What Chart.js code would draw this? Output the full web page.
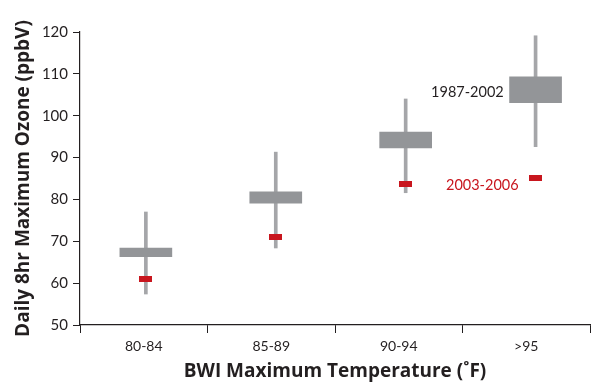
<!DOCTYPE html>
<html>
<head>
<meta charset="utf-8">
<script src="https://cdn.jsdelivr.net/npm/chart.js@4/dist/chart.umd.min.js"></script>
<style>
  html, body { margin: 0; padding: 0; background: #fff; }
</style>
</head>
<body>
<canvas id="ozone" width="595" height="383"></canvas>
<script>
// Temperature bins and ozone ranges (ppbV)
var categories = ["80-84", "85-89", "90-94", ">95"];
var whiskerLow = [57.4, 68.4, 81.6, 92.6];
var whiskerHigh = [77, 91.3, 104, 119.1];
var boxLow = [66.3, 79.1, 92.3, 103.1];
var boxHigh = [68.4, 81.8, 96.1, 109.3];
var recent = [61, 71, 83.7, 85.1];
var yTicks = [50, 60, 70, 80, 90, 100, 110, 120];

var ink = "#231f20";
var boxGray = "#939598";
var whiskerGray = "#a5a6a9";
var red = "#c8161e";

// small red bar used as the marker for 2003-2006
var marker = document.createElement("canvas");
marker.width = 13;
marker.height = 6;
var mctx = marker.getContext("2d");
mctx.fillStyle = red;
mctx.fillRect(0, 0, 13, 6);

function pairs(lo, hi) {
  return lo.map(function (v, i) { return { x: i, y: [v, hi[i]] }; });
}

// text labels for the two periods, placed in data units
var notes = [
  { text: "1987-2002", x: 2.755, y: 105.7, color: ink, align: "right" },
  { text: "2003-2006", x: 2.59, y: 83.3, color: red, align: "center" }
];

var notePlugin = {
  id: "notes",
  afterDatasetsDraw: function (chart) {
    var c = chart.ctx;
    var xs = chart.scales.xm, ys = chart.scales.y;
    c.save();
    c.font = "14.5px Lato";
    c.textBaseline = "middle";
    notes.forEach(function (n) {
      c.fillStyle = n.color;
      c.textAlign = n.align;
      c.fillText(n.text, xs.getPixelForValue(n.x), ys.getPixelForValue(n.y));
    });
    c.restore();
  }
};

var ctx = document.getElementById("ozone").getContext("2d");

new Chart(ctx, {
  type: "bar",
  data: {
    datasets: [
      {
        type: "scatter",
        label: "2003-2006",
        data: recent.map(function (v, i) { return { x: i, y: v }; }),
        pointStyle: marker,
        xAxisID: "xm",
        order: 0
      },
      {
        label: "1987-2002",
        data: pairs(boxLow, boxHigh),
        backgroundColor: boxGray,
        barThickness: 52,
        grouped: false,
        xAxisID: "xm",
        order: 1
      },
      {
        label: "range",
        data: pairs(whiskerLow, whiskerHigh),
        backgroundColor: whiskerGray,
        barThickness: 3,
        grouped: false,
        xAxisID: "xm",
        order: 2
      }
    ]
  },
  options: {
    responsive: false,
    animation: false,
    layout: { padding: { top: 32, right: 0, left: 0, bottom: 0 } },
    plugins: { legend: { display: false }, tooltip: { enabled: false } },
    scales: {
      xm: {
        type: "linear",
        display: false,
        offset: false,
        min: -0.507,
        max: 3.419
      },
      x: {
        type: "category",
        labels: categories,
        offset: true,
        position: "bottom",
        grid: { offset: true, drawOnChartArea: false, tickLength: 8, color: ink },
        border: { color: ink, width: 1.2 },
        ticks: { color: ink, font: { family: "Lato", size: 14 }, padding: 5 },
        title: {
          display: true,
          text: "BWI Maximum Temperature (˚F)",
          color: ink,
          font: { family: "Open Sans", size: 19, weight: "bold" },
          padding: { top: 0, bottom: 0 }
        },
        afterFit: function (s) { s.height = 58; }
      },
      y: {
        min: 50,
        max: 120,
        afterBuildTicks: function (s) {
          s.ticks = yTicks.map(function (v) { return { value: v }; });
        },
        grid: { drawOnChartArea: false, tickLength: 7, color: ink },
        border: { color: ink, width: 1.2 },
        ticks: { color: ink, font: { family: "Lato", size: 15 }, padding: 5 },
        title: {
          display: true,
          text: "Daily 8hr Maximum Ozone (ppbV)",
          color: ink,
          font: { family: "Open Sans", size: 19, weight: "bold" },
          padding: { top: 12, bottom: 0 }
        },
        afterFit: function (s) { s.width = 80; }
      }
    }
  },
  plugins: [notePlugin]
});
</script>
</body>
</html>
